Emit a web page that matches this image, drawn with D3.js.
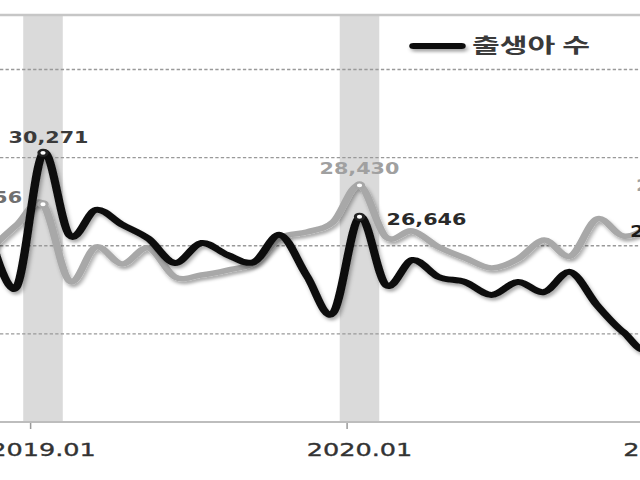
<!DOCTYPE html>
<html><head><meta charset="utf-8">
<script src="https://cdn.jsdelivr.net/npm/d3@7"></script>
<style>html,body{margin:0;padding:0;background:#fff;overflow:hidden}</style>
</head><body>
<svg id="c" width="640" height="480"></svg>
<script>
// ---- data ----
const months = ["2018.11","2018.12",
  "2019.01","2019.02","2019.03","2019.04","2019.05","2019.06","2019.07","2019.08","2019.09","2019.10","2019.11","2019.12",
  "2020.01","2020.02","2020.03","2020.04","2020.05","2020.06","2020.07","2020.08","2020.09","2020.10","2020.11","2020.12",
  "2021.01"];
const births = [25600,22660,
  30271,25600,27030,26200,25400,24022,25156,24476,24078,25610,23300,21185,
  26646,22773,24192,23227,22944,22206,22944,22376,23511,21639,20107,19400,
  25000];
const deaths = [24816,26178,
  27356,23000,24930,23965,24873,23227,23341,23624,24022,25440,25781,26348,
  28430,25497,25837,24930,24305,23738,24249,25327,24419,26518,25554,26121,
  27500];
const tickLabels = ["2019.01","2020.01","2021.01"];
const shadedMonths = ["2019.01","2020.01"];
const markedMonths = ["2019.01","2020.01","2021.01"];
const gridValues = [20000,25000,30000,35000];
const legendLabel = "출생아 수";

// ---- layout ----
const SX = 1.38;            // the reference picture is stretched horizontally
const W = 640 / SX;
const svg = d3.select("#c");
const defs = svg.append("defs");
const f = defs.append("filter").attr("id","sh").attr("filterUnits","userSpaceOnUse")
  .attr("x",-20).attr("y",0).attr("width",W+40).attr("height",480);
f.append("feDropShadow").attr("dx",1.4).attr("dy",2.8).attr("stdDeviation",1.6)
  .attr("flood-color","#000").attr("flood-opacity",0.33);

const g = svg.append("g").attr("transform",`scale(${SX},1)`);

const x = d3.scalePoint().domain(months)
  .range([(43 - 2*26.375)/SX, (43 + 24*26.375)/SX]);
const step = x.step();
const y = d3.scaleLinear().domain([15000,35000]).range([422,69.5]);
const plotTop = 15;
const y0 = y(15000);

// shaded january bands
g.selectAll("rect.band").data(shadedMonths).join("rect")
  .attr("x", d => x(d) - 0.75*step).attr("width", 1.5*step)
  .attr("y", plotTop).attr("height", y0 - plotTop)
  .attr("fill", "#dadada");

// gridlines
g.selectAll("line.grid").data(gridValues).join("line")
  .attr("x1",0).attr("x2",W).attr("y1",d=>y(d)).attr("y2",d=>y(d))
  .attr("stroke","#999").attr("stroke-width",1.3).attr("stroke-dasharray","2.4 1.6");

// top border
g.append("line").attr("x1",0).attr("x2",W).attr("y1",plotTop).attr("y2",plotTop)
  .attr("stroke","#c6c6c6").attr("stroke-width",2.5);

// x axis
g.append("line").attr("x1",0).attr("x2",W).attr("y1",y0).attr("y2",y0)
  .attr("stroke","#bdbdbd").attr("stroke-width",2);
g.selectAll("line.tick").data(tickLabels).join("line")
  .attr("x1",d=>x(d)-0.47*step).attr("x2",d=>x(d)-0.47*step)
  .attr("y1",y0+1).attr("y2",y0+7).attr("stroke","#9a9a9a").attr("stroke-width",1.1);
g.selectAll("text.tl").data(tickLabels).join("text")
  .attr("x",d=>x(d)).attr("y",456).attr("text-anchor","middle")
  .attr("font-family","DejaVu Sans").attr("font-size",18.5).attr("fill","#333")
  .attr("stroke","#333").attr("stroke-width",0.35)
  .text(d=>d);

// lines
const line = d3.line().x((d,i)=>x(months[i])).y(d=>y(d)).curve(d3.curveCardinal.tension(0));
g.append("path").attr("d",line(deaths)).attr("fill","none")
  .attr("stroke","#a8a8a8").attr("stroke-width",5.5).attr("stroke-linejoin","round")
  .attr("filter","url(#sh)");
g.append("path").attr("d",line(births)).attr("fill","none")
  .attr("stroke","#111").attr("stroke-width",6).attr("stroke-linejoin","round")
  .attr("filter","url(#sh)");

// markers
const idx = m => months.indexOf(m);
g.selectAll("circle.md").data(markedMonths).join("circle")
  .attr("cx",d=>x(d)).attr("cy",d=>y(deaths[idx(d)])).attr("r",3)
  .attr("fill","#fff").attr("stroke","#a6a6a6").attr("stroke-width",2.2);
g.selectAll("circle.mb").data(markedMonths).join("circle")
  .attr("cx",d=>x(d)).attr("cy",d=>y(births[idx(d)])).attr("r",3)
  .attr("fill","#fff").attr("stroke","#222").attr("stroke-width",2.2);

// data labels (placement per labelled point)
const fmt = d3.format(",");
const placements = [
  {series:births, m:"2019.01", dx:4, dy:-10, anchor:"middle", color:"#3a3a3a"},
  {series:births, m:"2020.01", dx:19.6, dy:8.5, anchor:"start", color:"#2a2a2a"},
  {series:births, m:"2021.01", dx:-33.3, dy:-8.5, anchor:"start", color:"#1a1a1a"},
  {series:deaths, m:"2019.01", dx:-15.2, dy:-1.5, anchor:"end", color:"#707070"},
  {series:deaths, m:"2020.01", dx:0, dy:-11, anchor:"middle", color:"#a0a0a0"},
  {series:deaths, m:"2021.01", dx:0, dy:-11, anchor:"middle", color:"#a0a0a0"}
];
g.selectAll("text.dl").data(placements).join("text")
  .attr("x",p=>x(p.m)+p.dx).attr("y",p=>y(p.series[idx(p.m)])+p.dy)
  .attr("text-anchor",p=>p.anchor)
  .attr("font-family","DejaVu Sans").attr("font-weight","bold").attr("font-size",15)
  .attr("fill",p=>p.color)
  .text(p=>fmt(p.series[idx(p.m)]));

// legend
g.append("line").attr("x1",299.5).attr("x2",334.5).attr("y1",46).attr("y2",46)
  .attr("stroke","#111").attr("stroke-width",6).attr("stroke-linecap","round")
  .attr("filter","url(#sh)");
g.append("text").attr("x",342).attr("y",53.5)
  .attr("font-family","Noto Sans CJK KR").attr("font-weight","bold").attr("font-size",20.5)
  .attr("textLength",85.5).attr("lengthAdjust","spacingAndGlyphs")
  .attr("fill","#3a3a3a").text(legendLabel);
</script>
</body></html>
